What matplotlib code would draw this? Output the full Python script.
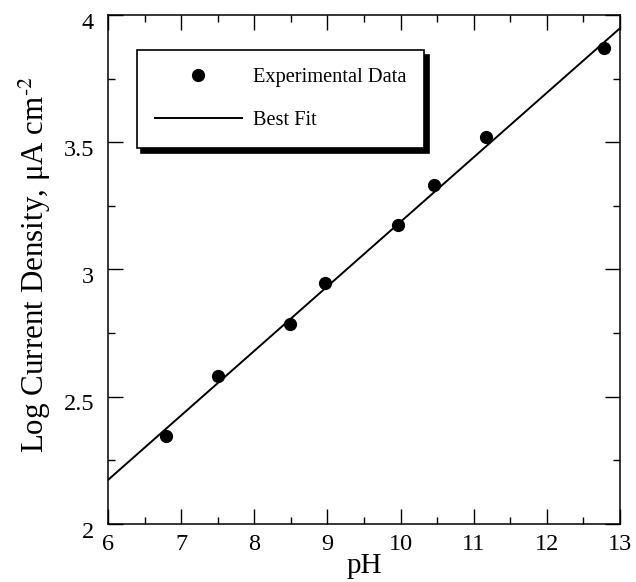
import matplotlib
matplotlib.use("Agg")
import matplotlib.pyplot as plt
import matplotlib.transforms as mtransforms
from matplotlib.ticker import MultipleLocator

plt.rcParams['font.family'] = ['Liberation Serif', 'DejaVu Serif']
plt.rcParams['mathtext.fontset'] = 'stix'

# Data
ph_values = [6.79, 7.50, 8.49, 8.97, 9.97, 10.46, 11.17, 12.78]
log_current = [2.345, 2.58, 2.785, 2.945, 3.175, 3.332, 3.52, 3.872]
fit_ph = [6.0, 13.0]
fit_log_current = [2.173, 3.948]

x_ticks = [6, 7, 8, 9, 10, 11, 12, 13]
x_tick_labels = ['6', '7', '8', '9', '10', '11', '12', '13']
y_ticks = [2, 2.5, 3, 3.5, 4]
y_tick_labels = ['2', '2.5', '3', '3.5', '4']

fig = plt.figure(figsize=(6.36, 5.82), dpi=100)
ax = fig.add_axes([0.1698, 0.0997, 0.8050, 0.8745])

ax.plot(fit_ph, fit_log_current, color='black', lw=1.4, label='Best Fit', zorder=2)
ax.plot(ph_values, log_current, linestyle='none', marker='o', ms=8.5,
        color='black', label='Experimental Data', zorder=3)

ax.set_xlim(6, 13)
ax.set_ylim(2, 4)
ax.set_xticks(x_ticks)
ax.set_xticklabels(x_tick_labels)
ax.set_yticks(y_ticks)
ax.set_yticklabels(y_tick_labels)
ax.xaxis.set_minor_locator(MultipleLocator(0.5))
ax.yaxis.set_minor_locator(MultipleLocator(0.25))

ax.tick_params(which='both', direction='in', top=True, right=True, width=1.0)
ax.tick_params(which='major', length=11, labelsize=17.5)
ax.tick_params(which='minor', length=5)
ax.tick_params(axis='x', which='major', pad=7)
ax.tick_params(axis='y', which='major', pad=10)

for sp in ax.spines.values():
    sp.set_linewidth(1.1)

# y tick labels sit slightly below their ticks in the reference
offset = mtransforms.ScaledTranslation(0, -4 / 72, fig.dpi_scale_trans)
for lbl in ax.get_yticklabels():
    lbl.set_transform(lbl.get_transform() + offset)

ax.set_xlabel('pH', fontsize=21, labelpad=-1)
ax.set_ylabel(r'Log Current Density, μA cm$^{\text{-}2}$', fontsize=22.3)
ax.yaxis.set_label_coords(-0.108, 0.51)

handles, labels = ax.get_legend_handles_labels()
order = [1, 0]
leg = ax.legend([handles[i] for i in order], [labels[i] for i in order],
                loc='upper left', bbox_to_anchor=(0.0566, 0.931),
                borderaxespad=0, fontsize=14.7, handlelength=4.26,
                handletextpad=0.54, borderpad=0.88, labelspacing=1.15,
                fancybox=False, framealpha=1, edgecolor='black',
                shadow={'ox': 3.2, 'oy': -3.2, 'color': 'black', 'alpha': 1})
leg.get_frame().set_linewidth(1.2)

fig.savefig('out.png', dpi=100)
